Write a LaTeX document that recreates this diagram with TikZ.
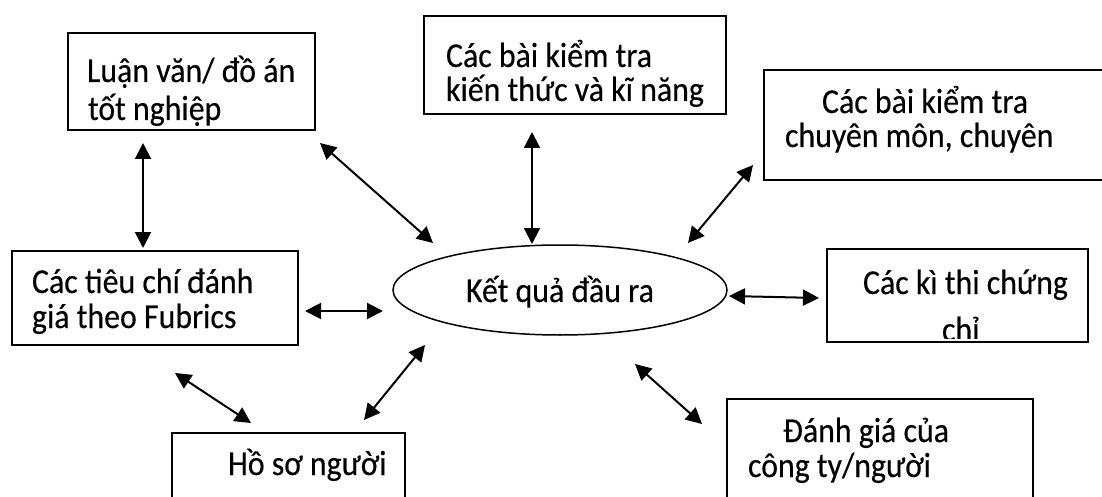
\documentclass[tikz,border=0pt]{standalone}
\usepackage{fontspec}
\setmainfont{Carlito}[FakeStretch=0.91,FakeBold=0.3]
\usetikzlibrary{shapes.geometric,arrows.meta}
\tikzset{
  box/.style={draw=black, line width=1.5pt, rectangle, anchor=north west, inner sep=0pt, outer sep=0pt},
  txt/.style={anchor=base west, inner sep=0pt, outer sep=0pt, font=\fontsize{35}{38}\selectfont},
  link/.style={line width=2pt, {Triangle[length=16pt,width=16pt]}-{Triangle[length=16pt,width=16pt]}},
}
\newcommand{\mkbox}[5]{\node[box, minimum width=#4-#2, minimum height=#5-#3] (#1) at (#2,#3) {};}
\newcommand{\boxclip}[1]{\clip (#1.north west) rectangle ([yshift=4pt]#1.south east);}
\begin{document}
\begin{tikzpicture}[x=1pt,y=-1pt]
\useasboundingbox[fill=white] (0,0) rectangle (1102,497);
% boxes
\mkbox{b1}{68}{33}{315}{130}
\mkbox{b2}{424}{16}{726}{114}
\mkbox{b3}{764}{70}{1115}{180}
\mkbox{b4}{12}{251}{298}{345}
\mkbox{b5}{827}{249}{1088}{342}
\mkbox{b6}{172}{433}{405}{515}
\mkbox{b7}{727}{399}{1033}{515}
\node[draw=black, line width=1.5pt, ellipse, minimum width=334pt, minimum height=90pt, inner sep=0pt] (ell) at (560,290) {};
% texts (clipped to their boxes)
\begin{scope}\boxclip{b1}
\node[txt] (t1a) at (87,82) {Luận văn/ đồ án};
\node[txt] (t1b) at (88,120) {tốt nghiệp};
\end{scope}
\begin{scope}\boxclip{b2}
\node[txt] (t2a) at (446,67) {Các bài kiểm tra};
\node[txt] (t2b) at (446,101) {kiến thức và kĩ năng};
\end{scope}
\begin{scope}\boxclip{b3}
\node[txt] (t3a) at (822,113) {Các bài kiểm tra};
\node[txt] (t3b) at (785,147) {chuyên môn, chuyên};
\end{scope}
\begin{scope}\boxclip{b4}
\node[txt] (t4a) at (32,293) {Các tiêu chí đánh};
\node[txt] (t4b) at (32,328) {giá theo Fubrics};
\end{scope}
\begin{scope}\boxclip{b5}
\node[txt] (t5a) at (863,294) {Các kì thi chứng};
\node[txt] (t5b) at (942,341) {chỉ};
\end{scope}
\node[txt] (te) at (466,302) {Kết quả đầu ra};
\node[txt] (t6a) at (228,475) {Hồ sơ người};
\node[txt] (t7a) at (783,442) {Đánh giá của};
\node[txt] (t7b) at (748,477) {công ty/người};
% connector end points
\coordinate (p1a) at (143,143); \coordinate (p1b) at (143,248);
\coordinate (p2a) at (320,143); \coordinate (p2b) at (433,243);
\coordinate (p3a) at (532,132); \coordinate (p3b) at (532,244);
\coordinate (p4a) at (688,243); \coordinate (p4b) at (753,165);
\coordinate (p5a) at (729,296); \coordinate (p5b) at (819,298);
\coordinate (p6a) at (305,311); \coordinate (p6b) at (383,311);
\coordinate (p7a) at (175,373); \coordinate (p7b) at (251,423);
\coordinate (p8a) at (364,420); \coordinate (p8b) at (425,345);
\coordinate (p9a) at (635,364); \coordinate (p9b) at (702,424);
\draw[link] (p1a) -- (p1b);
\draw[link] (p2a) -- (p2b);
\draw[link] (p3a) -- (p3b);
\draw[link] (p4a) -- (p4b);
\draw[link] (p5a) -- (p5b);
\draw[link] (p6a) -- (p6b);
\draw[link] (p7a) -- (p7b);
\draw[link] (p8a) -- (p8b);
\draw[link] (p9a) -- (p9b);
\end{tikzpicture}
\end{document}
